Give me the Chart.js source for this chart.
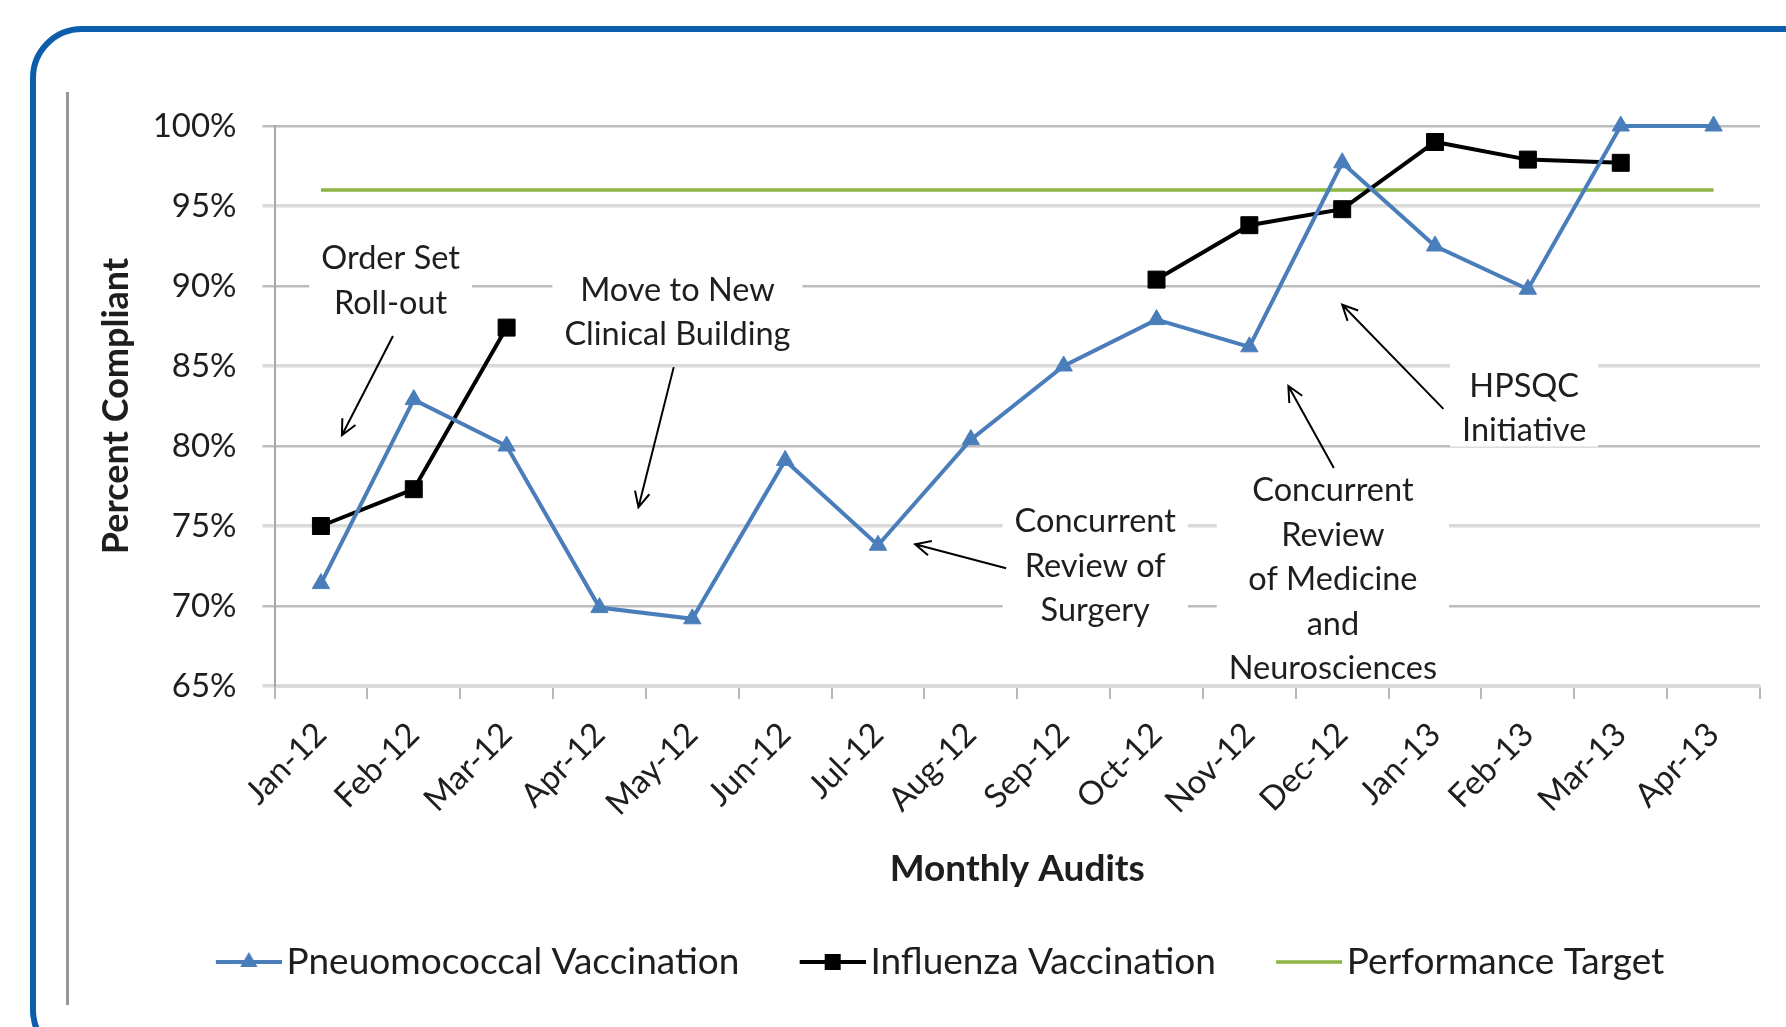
<!DOCTYPE html>
<html>
<head>
<meta charset="utf-8">
<script src="https://cdn.jsdelivr.net/npm/chart.js@4.4.0/dist/chart.umd.min.js"></script>
<style>
  html, body { margin: 0; padding: 0; width: 1786px; height: 1027px; overflow: hidden; background: #fff; }
  #frame { position: absolute; left: 30px; top: 26px; width: 1900px; height: 1036px; box-sizing: border-box;
           border: 6px solid #0C5EAD; border-radius: 52px; }
  #rule { position: absolute; left: 66px; top: 92px; width: 3px; height: 913px; background: #979797; }
  #chart { position: absolute; left: 0; top: 0; }
</style>
</head>
<body>
<div id="frame"></div>
<div id="rule"></div>
<canvas id="chart" width="1786" height="1027"></canvas>
<script>
/* ---------------------------------------------------------------- */
/*  Data                                                            */
/* ---------------------------------------------------------------- */

const MONTHS = ['Jan-12', 'Feb-12', 'Mar-12', 'Apr-12', 'May-12', 'Jun-12', 'Jul-12', 'Aug-12',
                'Sep-12', 'Oct-12', 'Nov-12', 'Dec-12', 'Jan-13', 'Feb-13', 'Mar-13', 'Apr-13'];

const PNEUMO = [71.4, 82.9, 80.0, 69.9, 69.2, 79.1, 73.8, 80.4, 85.0, 87.9, 86.2, 97.7, 92.5, 89.8, 100, 100];

const FLU = [75.0, 77.3, 87.4, null, null, null, null, null, null, 90.4, 93.8, 94.8, 99.0, 97.9, 97.7, null];

const TARGET = [96, 96, 96, 96, 96, 96, 96, 96, 96, 96, 96, 96, 96, 96, 96, 96];

const SERIES_NAMES = ['Pneuomococcal Vaccination', 'Influenza Vaccination', 'Performance Target'];

// annotation texts, anchored in data units (category index, percent)
const NOTE_TEXT = [
    ['Order Set', 'Roll-out'],
    ['Move to New', 'Clinical Building'],
    ['Concurrent', 'Review of', 'Surgery'],
    ['Concurrent', 'Review', 'of Medicine', 'and', 'Neurosciences'],
    ['HPSQC', 'Initiative']
];
const NOTE_AT = [[0.75, 90.33], [3.84, 88.35], [8.34, 72.49], [10.9, 71.64], [12.96, 82.35]];

// arrows: [fromIndex, fromValue, toIndex, toValue]
const ARROWS = [
    [0.776, 86.87, 0.226, 80.67],
    [3.80, 84.93, 3.42, 76.17],
    [7.38, 72.36, 6.40, 73.86],
    [10.91, 78.62, 10.42, 83.75],
    [12.09, 82.32, 11.00, 88.83]
];

/* ---------------------------------------------------------------- */
/*  Helpers                                                         */
/* ---------------------------------------------------------------- */

const FONT = 'Lato';
const INK = '#1e1e1e';
const BLUE = '#4A7EBB';
const GREEN = '#8DB543';

// legend symbol: line segment with the marker in the middle, drawn at the right of a wider image
function legendIcon(color, marker) {
    const c = document.createElement('canvas');
    c.width = 120; c.height = 30;
    const g = c.getContext('2d');
    g.strokeStyle = color;
    g.fillStyle = color;
    g.lineWidth = marker ? 4 : 3.5;
    g.beginPath(); g.moveTo(54, 15); g.lineTo(120, 15); g.stroke();
    const cx = 87, cy = 15;
    if (marker === 'triangle') {
        g.beginPath();
        g.moveTo(cx, cy - 10); g.lineTo(cx + 8.7, cy + 5); g.lineTo(cx - 8.7, cy + 5);
        g.closePath(); g.fill();
    } else if (marker === 'rect') {
        g.fillRect(cx - 8, cy - 8, 16, 16);
    }
    return c;
}

const ICONS = [legendIcon(BLUE, 'triangle'), legendIcon('#000', 'rect'), legendIcon(GREEN, null)];

const notesPlugin = {
    id: 'notes',
    beforeDatasetsDraw(chart) {
        const { ctx, chartArea, scales: { x, y } } = chart;
        const lineH = 44.6;
        ctx.save();
        ctx.font = `32.5px ${FONT}`;
        ctx.textAlign = 'center';
        ctx.textBaseline = 'middle';

        NOTE_TEXT.forEach((lines, i) => {
            const cx = x.getPixelForValue(NOTE_AT[i][0]);
            const cy = y.getPixelForValue(NOTE_AT[i][1]);
            const w = Math.max(...lines.map(t => ctx.measureText(t).width)) + 24;
            const first = cy - (lines.length - 1) * lineH / 2;
            const last = cy + (lines.length - 1) * lineH / 2;
            const top = first - 24;
            const bottom = Math.min(last + 16, chartArea.bottom - 2.5);
            ctx.fillStyle = '#fff';
            ctx.fillRect(cx - w / 2, top, w, bottom - top);
            ctx.fillStyle = INK;
            lines.forEach((t, k) => ctx.fillText(t, cx, first + k * lineH));
        });

        ctx.strokeStyle = '#000';
        ctx.lineWidth = 2;
        ARROWS.forEach(a => {
            const x0 = x.getPixelForValue(a[0]), y0 = y.getPixelForValue(a[1]);
            const x1 = x.getPixelForValue(a[2]), y1 = y.getPixelForValue(a[3]);
            const ang = Math.atan2(y1 - y0, x1 - x0);
            const len = 17, spread = 0.45;
            ctx.beginPath();
            ctx.moveTo(x0, y0); ctx.lineTo(x1, y1);
            ctx.moveTo(x1 - len * Math.cos(ang - spread), y1 - len * Math.sin(ang - spread));
            ctx.lineTo(x1, y1);
            ctx.lineTo(x1 - len * Math.cos(ang + spread), y1 - len * Math.sin(ang + spread));
            ctx.stroke();
        });
        ctx.restore();
    }
};

/* ---------------------------------------------------------------- */
/*  Chart                                                           */
/* ---------------------------------------------------------------- */

new Chart(document.getElementById('chart'), {
    type: 'line',
    data: {
        labels: MONTHS,
        datasets: [
            {
                label: SERIES_NAMES[0],
                data: PNEUMO,
                borderColor: BLUE,
                backgroundColor: BLUE,
                borderWidth: 4,
                pointStyle: 'triangle',
                pointRadius: 10,
                pointBorderWidth: 1,
                clip: false
            },
            {
                label: SERIES_NAMES[1],
                data: FLU,
                borderColor: '#000',
                backgroundColor: '#000',
                borderWidth: 4,
                pointStyle: 'rect',
                pointRadius: 12,
                pointBorderWidth: 1,
                spanGaps: false,
                clip: false
            },
            {
                label: SERIES_NAMES[2],
                data: TARGET,
                borderColor: GREEN,
                borderWidth: 3.5,
                pointRadius: 0,
                clip: false
            }
        ]
    },
    options: {
        responsive: false,
        animation: false,
        devicePixelRatio: 1,
        layout: { padding: { left: 80, top: 126, right: 26, bottom: 36.5 } },
        scales: {
            x: {
                offset: true,
                grid: { offset: true, drawOnChartArea: false, drawTicks: true, tickLength: 13, color: '#b8b8b8', lineWidth: 2 },
                border: { display: true, color: '#d9d9d9', width: 3 },
                ticks: {
                    autoSkip: false, minRotation: 45, maxRotation: 45, padding: 16,
                    color: INK, font: { family: FONT, size: 33 }
                },
                title: {
                    display: true, text: 'Monthly Audits', color: INK,
                    font: { family: FONT, size: 37, weight: 'bold' },
                    padding: { top: 0, bottom: 32.3 }
                },
                afterFit: scale => { scale.height = 237.5; }
            },
            y: {
                min: 65, max: 100,
                grid: {
                    drawTicks: true, tickLength: 12,
                    color: c => (c.tick && c.tick.value % 10 === 0) ? '#bcbcbc' : '#dadada',
                    lineWidth: c => (c.tick && c.tick.value % 10 === 0) ? 2.5 : 3.5
                },
                border: { display: true, color: '#a8a8a8', width: 2 },
                ticks: {
                    stepSize: 5, padding: 26, color: INK,
                    font: { family: FONT, size: 33 },
                    callback: v => v + '%'
                },
                title: {
                    display: true, text: 'Percent Compliant', color: INK,
                    font: { family: FONT, size: 36, weight: 'bold' },
                    padding: { top: 14.4, bottom: 0 }
                },
                afterFit: scale => { scale.width = 194.5; }
            }
        },
        plugins: {
            tooltip: { enabled: false },
            legend: {
                position: 'bottom',
                labels: {
                    usePointStyle: true,
                    pointStyleWidth: 92.5,
                    padding: 20,
                    color: INK,
                    font: { family: FONT, size: 37 },
                    generateLabels: chart => chart.data.datasets.map((ds, i) => ({
                        text: ds.label,
                        pointStyle: ICONS[i],
                        datasetIndex: i,
                        hidden: false,
                        lineWidth: 0,
                        fillStyle: 'transparent',
                        strokeStyle: 'transparent',
                        fontColor: INK
                    }))
                }
            }
        }
    },
    plugins: [notesPlugin]
});
</script>
</body>
</html>
